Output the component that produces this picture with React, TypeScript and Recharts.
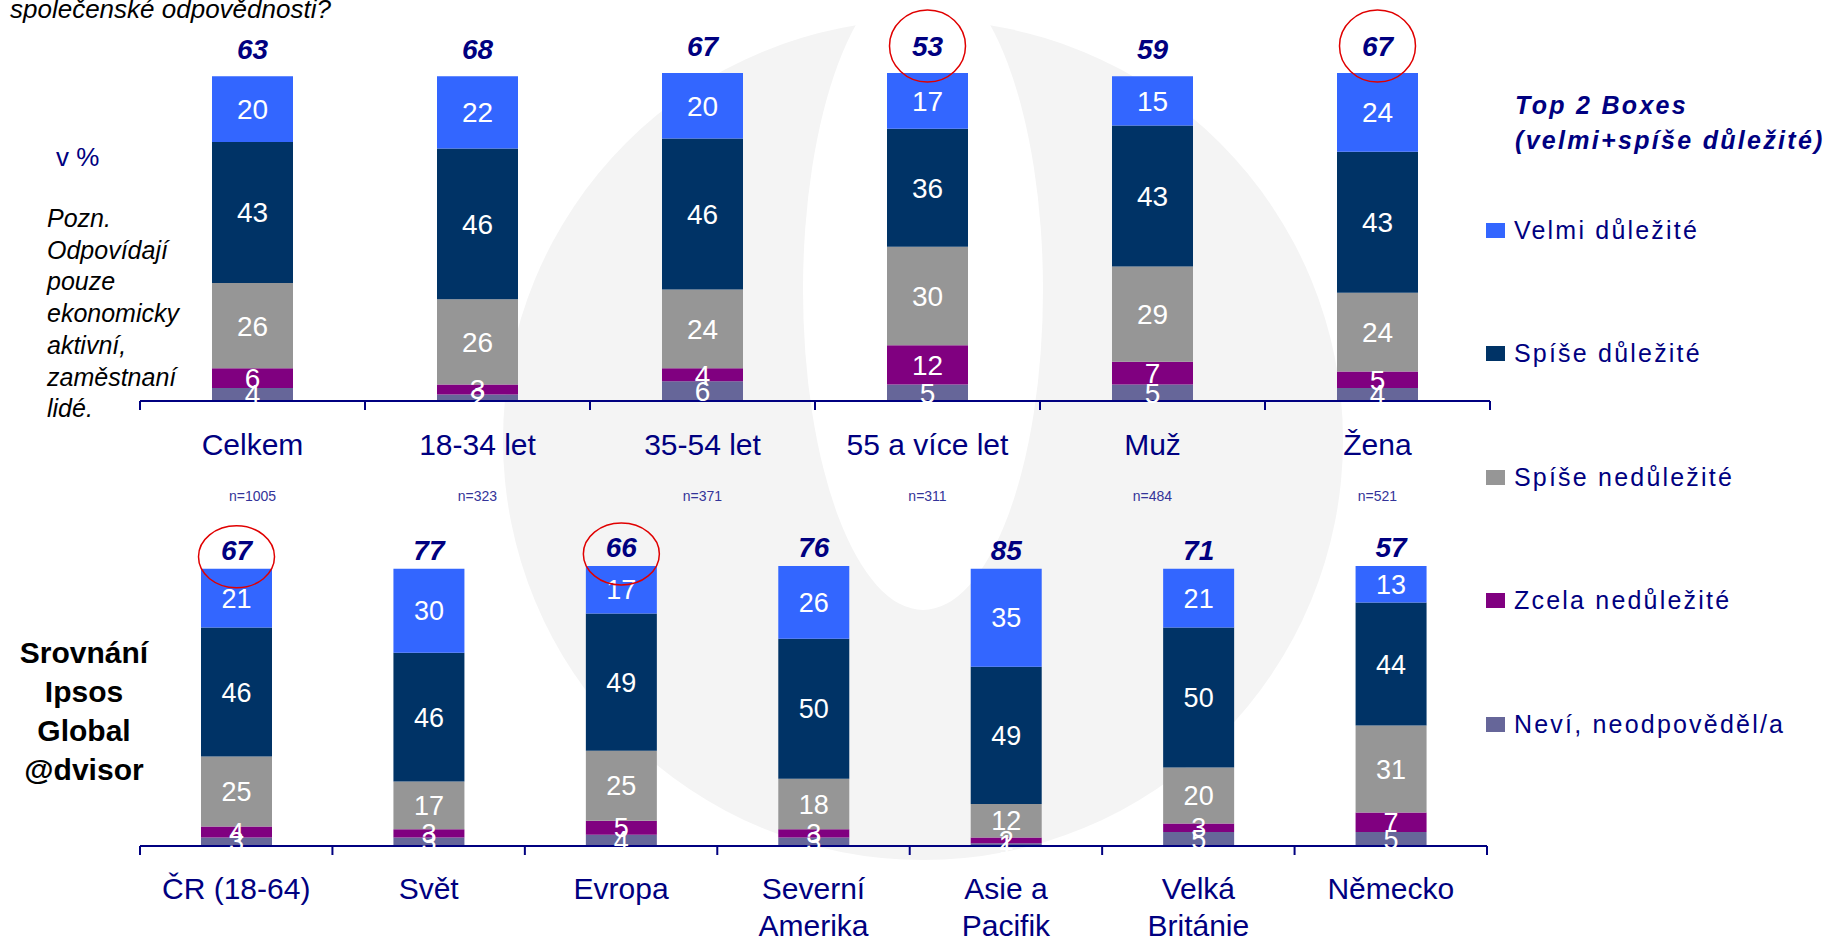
import React from "react";
import { BarChart, Bar, XAxis, YAxis, LabelList } from "recharts";

const FONT = "'Liberation Sans', Arial, Helvetica, sans-serif";
const NAVY = "#000080";

// series (bottom of the stack first)
const seriesKeys = ["nevi", "zcela", "spiseNe", "spise", "velmi"];
const seriesNames = ["Neví, neodpověděl/a", "Zcela nedůležité", "Spíše nedůležité", "Spíše důležité", "Velmi důležité"];
const seriesColors = ["#666699", "#800080", "#969696", "#003366", "#3366FF"];

// upper chart
const topCategories = ["Celkem", "18-34 let", "35-54 let", "55 a více let", "Muž", "Žena"];
const topSampleSizes = ["n=1005", "n=323", "n=371", "n=311", "n=484", "n=521"];
const topVelmi = [20, 22, 20, 17, 15, 24];
const topSpise = [43, 46, 46, 36, 43, 43];
const topSpiseNe = [26, 26, 24, 30, 29, 24];
const topZcela = [6, 3, 4, 12, 7, 5];
const topNevi = [4, 2, 6, 5, 5, 4];
const topTop2 = [63, 68, 67, 53, 59, 67];
const topCircled = [false, false, false, true, false, true];

// lower chart
const bottomCategories = ["ČR (18-64)", "Svět", "Evropa", "Severní\nAmerika", "Asie a\nPacifik", "Velká\nBritánie", "Německo"];
const bottomVelmi = [21, 30, 17, 26, 35, 21, 13];
const bottomSpise = [46, 46, 49, 50, 49, 50, 44];
const bottomSpiseNe = [25, 17, 25, 18, 12, 20, 31];
const bottomZcela = [4, 3, 5, 3, 2, 3, 7];
const bottomNevi = [3, 3, 4, 3, 1, 5, 5];
const bottomTop2 = [67, 77, 66, 76, 85, 71, 57];
const bottomCircled = [true, false, true, false, false, false, false];

const poznLines = ["Pozn.", "Odpovídají", "pouze", "ekonomicky", "aktivní,", "zaměstnaní", "lidé."];
const ipsosLines = ["Srovnání", "Ipsos", "Global", "@dvisor"];

const topData = topCategories.map((name, i) => ({
  name,
  velmi: topVelmi[i],
  spise: topSpise[i],
  spiseNe: topSpiseNe[i],
  zcela: topZcela[i],
  nevi: topNevi[i],
  top2: topTop2[i],
}));

const bottomData = bottomCategories.map((name, i) => ({
  name,
  velmi: bottomVelmi[i],
  spise: bottomSpise[i],
  spiseNe: bottomSpiseNe[i],
  zcela: bottomZcela[i],
  nevi: bottomNevi[i],
  top2: bottomTop2[i],
}));

// Top 2 Boxes value above the bar, with a red ring where it is highlighted
const totalLabel = (circled: boolean[], lift: number, rx: number, ry: number, dy: number) => (props: any) => {
  const vb = props.viewBox ?? props;
  const cx = Number(vb.x) + Number(vb.width) / 2;
  const cy = Number(vb.y) - lift;
  return (
    <g>
      <text x={cx} y={cy + 10} textAnchor="middle" fill={NAVY} fontSize={28} fontWeight="bold" fontStyle="italic" fontFamily={FONT}>
        {props.value}
      </text>
      {circled[props.index] && (
        <ellipse cx={cx} cy={cy + dy} rx={rx} ry={ry} fill="none" stroke="#e00000" strokeWidth={1.5} />
      )}
    </g>
  );
};

const CategoryTick = (props: any) => {
  const { x, y, payload, index, bw, count, firstLine, lineStep, nLabels } = props;
  const lines = String(payload.value).split("\n");
  return (
    <g>
      <line x1={x - bw / 2} y1={y} x2={x - bw / 2} y2={y + 9} stroke={NAVY} strokeWidth={2} />
      {index === count - 1 && <line x1={x + bw / 2} y1={y} x2={x + bw / 2} y2={y + 9} stroke={NAVY} strokeWidth={2} />}
      {lines.map((ln, j) => (
        <text key={j} x={x} y={y + firstLine + j * lineStep} textAnchor="middle" fill={NAVY} fontSize={30} fontFamily={FONT}>
          {ln}
        </text>
      ))}
      {nLabels && (
        <text x={x} y={y + 100} textAnchor="middle" fill="#333399" fontSize={14} fontFamily={FONT}>
          {nLabels[index]}
        </text>
      )}
    </g>
  );
};

export default function App() {
  const topBw = 1350 / topCategories.length;
  const bottomBw = 1347 / bottomCategories.length;
  return (
    <div style={{ position: "absolute", left: 0, top: 0, width: 1832, height: 939, background: "#fff", overflow: "hidden", fontFamily: FONT }}>
      {/* watermark */}
      <svg width={1832} height={939} style={{ position: "absolute", left: 0, top: 0 }}>
        <circle cx={923} cy={440} r={420} fill="#f4f4f4" />
        <ellipse cx={923} cy={290} rx={120} ry={320} fill="#ffffff" />
      </svg>

      <div style={{ position: "absolute", left: 0, top: 0 }}>
        <BarChart width={1832} height={520} data={topData} margin={{ top: 73, right: 342, bottom: 19, left: 140 }}>
          <XAxis
            dataKey="name"
            height={100}
            tickSize={0}
            tickMargin={0}
            tickLine={false}
            axisLine={{ stroke: NAVY, strokeWidth: 2 }}
            interval={0}
            tick={(p: any) => <CategoryTick {...p} bw={topBw} count={topCategories.length} firstLine={54} lineStep={37} nLabels={topSampleSizes} />}
          />
          <YAxis hide domain={[0, 100]} />
          {seriesKeys.map((key, i) => (
            <Bar key={key} dataKey={key} stackId="a" fill={seriesColors[i]} barSize={81} isAnimationActive={false}>
              <LabelList dataKey={key} position="center" fill="#ffffff" fontSize={28} fontFamily={FONT} />
              {key === "velmi" && <LabelList dataKey="top2" content={totalLabel(topCircled, 27, 38, 36, 0)} />}
            </Bar>
          ))}
        </BarChart>
      </div>

      <div style={{ position: "absolute", left: 0, top: 500 }}>
        <BarChart width={1832} height={439} data={bottomData} margin={{ top: 66, right: 345, bottom: 3, left: 140 }}>
          <XAxis
            dataKey="name"
            height={90}
            tickSize={0}
            tickMargin={0}
            tickLine={false}
            axisLine={{ stroke: NAVY, strokeWidth: 2 }}
            interval={0}
            tick={(p: any) => <CategoryTick {...p} bw={bottomBw} count={bottomCategories.length} firstLine={53} lineStep={37} />}
          />
          <YAxis hide domain={[0, 100]} />
          {seriesKeys.map((key, i) => (
            <Bar key={key} dataKey={key} stackId="a" fill={seriesColors[i]} barSize={71} isAnimationActive={false}>
              <LabelList dataKey={key} position="center" fill="#ffffff" fontSize={27} fontFamily={FONT} />
              {key === "velmi" && <LabelList dataKey="top2" content={totalLabel(bottomCircled, 19, 38, 31, 7)} />}
            </Bar>
          ))}
        </BarChart>
      </div>

      {/* free texts */}
      <svg width={1832} height={939} style={{ position: "absolute", left: 0, top: 0, pointerEvents: "none" }}>
        <text x={10} y={18} fontSize={26} fontStyle="italic" fill="#000" fontFamily={FONT}>
          společenské odpovědnosti?
        </text>
        <text x={56} y={166} fontSize={26} fill={NAVY} fontFamily={FONT}>
          v %
        </text>
        {poznLines.map((ln, i) => (
          <text key={ln} x={47} y={227 + i * 31.7} fontSize={25} fontStyle="italic" fill="#000" fontFamily={FONT}>
            {ln}
          </text>
        ))}
        {ipsosLines.map((ln, i) => (
          <text key={ln} x={84} y={663 + i * 39} fontSize={30} fontWeight="bold" textAnchor="middle" fill="#000" fontFamily={FONT}>
            {ln}
          </text>
        ))}
      </svg>

      {/* legend */}
      <div style={{ position: "absolute", left: 1486, top: 88, width: 346, color: NAVY }}>
        <div style={{ marginLeft: 29, fontSize: 25, fontWeight: "bold", fontStyle: "italic", letterSpacing: 2.3, lineHeight: "35px", whiteSpace: "nowrap" }}>
          <div>Top 2 Boxes</div>
          <div>(velmi+spíše důležité)</div>
        </div>
        {seriesNames
          .map((name, i) => ({ name, color: seriesColors[i] }))
          .reverse()
          .map((s, i) => (
            <div key={s.name} style={{ position: "absolute", left: 0, top: 142 + i * 123.5 - 15, height: 30, display: "flex", alignItems: "center", whiteSpace: "nowrap" }}>
              <span style={{ display: "inline-block", width: 19, height: 15, background: s.color, marginRight: 9 }} />
              <span style={{ fontSize: 25, letterSpacing: 2.2 }}>{s.name}</span>
            </div>
          ))}
      </div>
    </div>
  );
}
